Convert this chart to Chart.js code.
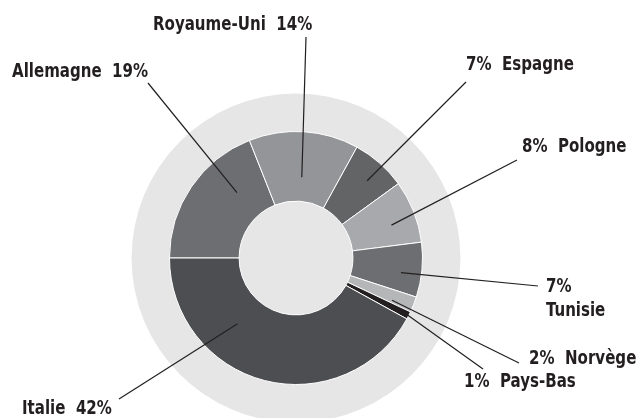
<!DOCTYPE html>
<html>
<head>
<meta charset="utf-8">
<script src="https://cdn.jsdelivr.net/npm/chart.js@4/dist/chart.umd.min.js"></script>
<style>
  html, body { margin: 0; padding: 0; background: #ffffff; }
  #wrap { position: relative; width: 641px; height: 418px; }
</style>
</head>
<body>
<div id="wrap"><canvas id="chart" width="641" height="418"></canvas></div>
<script>
// Data
const countries = ["Allemagne", "Royaume-Uni", "Espagne", "Pologne", "Tunisie", "Norvège", "Pays-Bas", "Italie"]
const shares = [19, 14, 7, 8, 7, 2, 1, 42]

// Styles
const sliceColors = ["#6d6e71", "#939598", "#636466", "#a7a9ac", "#6d6e71", "#b4b6b8", "#231f20", "#4d4e52"]
const ringColor = "#e6e6e6"
const inkColor = "#231f20"
const labelFont = "bold 19px 'DejaVu Sans', sans-serif"
const textSqueeze = 0.88

// Label layout: text position, name side, leader end, leader anchor inside the slice
const labelLayout = [
  { x: 12, y: 72, nameFirst: true, endX: 148, endY: 83, frac: 0.70, r: 88 },
  { x: 153, y: 25, nameFirst: true, endX: 306, endY: 37, frac: 0.51, r: 81 },
  { x: 466, y: 65, nameFirst: false, endX: 466, endY: 82, frac: 0.55, r: 105 },
  { x: 522, y: 147, nameFirst: false, endX: 517, endY: 160, frac: 0.59, r: 101 },
  { x: 546, y: 287, stacked: true, endX: 538, endY: 286, frac: 0.6, r: 106 },
  { x: 529, y: 359, nameFirst: false, endX: 519, endY: 363, frac: 0.8, r: 105 },
  { x: 464, y: 382, nameFirst: false, endX: 483, endY: 369, frac: 0.5, r: 124 },
  { x: 22, y: 409, nameFirst: true, endX: 119, endY: 399, frac: 0.68, r: 88 },
]

// Light disc behind the doughnut (also shows through the hole)
const ringPlugin = {
  id: "ring",
  beforeDatasetsDraw(chart) {
    const arc = chart.getDatasetMeta(0).data[0]
    if (!arc) return
    const ctx = chart.ctx
    ctx.save()
    ctx.fillStyle = ringColor
    ctx.beginPath()
    ctx.arc(arc.x, arc.y, arc.outerRadius * 1.3, 0, Math.PI * 2)
    ctx.fill()
    ctx.restore()
  },
}

// Draw condensed text
function drawText(ctx, text, x, y) {
  ctx.save()
  ctx.translate(x, y)
  ctx.scale(textSqueeze, 1)
  ctx.fillText(text, 0, 0)
  ctx.restore()
}

// Leader lines and labels
const labelPlugin = {
  id: "labels",
  afterDatasetsDraw(chart) {
    const ctx = chart.ctx
    const arcs = chart.getDatasetMeta(0).data
    ctx.save()
    arcs.forEach((arc, i) => {
      const lay = labelLayout[i]
      const a = arc.startAngle + (arc.endAngle - arc.startAngle) * lay.frac
      const sx = arc.x + Math.cos(a) * lay.r
      const sy = arc.y + Math.sin(a) * lay.r

      ctx.strokeStyle = inkColor
      ctx.lineWidth = 1.2
      ctx.beginPath()
      ctx.moveTo(sx, sy)
      ctx.lineTo(lay.endX, lay.endY)
      ctx.stroke()

      ctx.fillStyle = inkColor
      ctx.font = labelFont
      ctx.fontStretch = "condensed"
      ctx.textAlign = "left"
      ctx.textBaseline = "middle"
      const pct = shares[i] + "%"
      if (lay.stacked) {
        drawText(ctx, pct, lay.x, lay.y)
        drawText(ctx, countries[i], lay.x, lay.y + 24)
      } else if (lay.nameFirst) {
        drawText(ctx, countries[i] + "  " + pct, lay.x, lay.y)
      } else {
        drawText(ctx, pct + "  " + countries[i], lay.x, lay.y)
      }
    })
    ctx.restore()
  },
}

const ctx = document.getElementById("chart").getContext("2d")
new Chart(ctx, {
  type: "doughnut",
  data: {
    labels: countries,
    datasets: [
      {
        data: shares,
        backgroundColor: sliceColors,
        borderColor: "#ffffff",
        borderWidth: 1,
      },
    ],
  },
  options: {
    responsive: false,
    animation: false,
    rotation: -90,
    cutout: "45%",
    layout: {
      padding: { left: 169, right: 218, top: 131, bottom: 33 },
    },
    plugins: {
      legend: { display: false },
      tooltip: { enabled: false },
    },
  },
  plugins: [ringPlugin, labelPlugin],
})
</script>
</body>
</html>
